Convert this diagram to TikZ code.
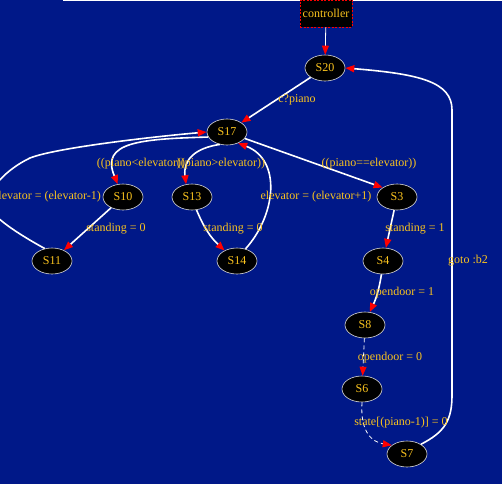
\documentclass[tikz,border=0pt]{standalone}
\usepackage{fontspec}
\setmainfont{Liberation Serif}
\usetikzlibrary{arrows.meta,shapes.geometric}
\definecolor{bgblue}{RGB}{0,24,136}
\definecolor{gold}{RGB}{250,195,30}
\begin{document}
\begin{tikzpicture}[
      x=1pt, y=-1pt,
      font=\fontsize{12}{14}\selectfont,
      >={Triangle[length=9pt,width=7pt,color=red]},
      state/.style={ellipse, draw=white!85!black, line width=0.6pt, fill=black,
        text=gold, inner sep=0pt, minimum width=40pt, minimum height=26pt},
      proc/.style={rectangle, draw=red, dash pattern=on 2pt off 1.5pt, line width=0.7pt,
        fill=black, text=gold, inner sep=0pt, minimum width=52pt, minimum height=27pt},
      lbl/.style={text=gold, inner sep=1pt},
      edge/.style={draw=white, line width=1.6pt, ->},
      thinedge/.style={draw=white, line width=0.8pt, ->},
      dashedge/.style={thinedge, dash pattern=on 4pt off 3pt}
    ]
    \fill[bgblue] (0,0) rectangle (502,484);
    \useasboundingbox (0,0) rectangle (502,484);
    \clip (0,0) rectangle (502,484);
    \fill[white] (63,0) rectangle (502,1.5);

    % states
    \node (ctrl) [proc] at (326,13.5) {controller};
    \node (S20) [state] at (325,68) {S20};
    \node (S17) [state] at (227,132) {S17};
    \node (S10) [state] at (123,197) {S10};
    \node (S13) [state] at (192,197) {S13};
    \node (S3) [state] at (397,197) {S3};
    \node (S11) [state] at (52,261) {S11};
    \node (S14) [state] at (237,261) {S14};
    \node (S4) [state] at (383,261) {S4};
    \node (S8) [state] at (365,325) {S8};
    \node (S6) [state] at (362,389) {S6};
    \node (S7) [state] at (407,454) {S7};

    % transitions
    \draw[thinedge] (ctrl) -- (S20);
    \draw[edge] (S20) -- (S17);
    \draw[edge] (S17.195) .. controls (140,139) and (100,142) .. (S10.112);
    \draw[edge] (S17.-120) .. controls (195,148) and (183,160) .. (S13.115);
    \draw[edge] (S17.-20) -- (S3.north west);
    \draw[edge] (S10) -- (S11);
    \draw[edge] (S11.120) .. controls (20,235) and (-12,215) .. (-12,203)
      .. controls (-12,190) and (5,170) .. (30,158)
      .. controls (55,148) and (150,137) .. (S17.west);
    \draw[edge] (S13) to[bend right=12] (S14.140);
    \draw[edge] (S14.55) .. controls (276,215) and (282,160) .. (S17.-45);
    \draw[edge] (S3) -- (S4);
    \draw[edge] (S4) to[bend left=8] (S8.70);
    \draw[dashedge] (S8) -- (S6);
    \draw[dashedge] (S6.south) .. controls (360,432) and (372,442) .. (S7.150);
    \draw[edge] (S7.35) .. controls (445,432) and (452,420) .. (452,395)
      -- (452,110) .. controls (452,82) and (420,74) .. (S20.east);

    % labels
    \node (l1) [lbl] at (297,100) {c?piano};
    \node (l2) [lbl] at (141,164) {((piano<elevator))};
    \node (l3) [lbl] at (221,164) {((piano>elevator))};
    \node (l4) [lbl] at (369,164) {((piano==elevator))};
    \node (l5) [lbl] at (47,197) {elevator = (elevator-1)};
    \node (l6) [lbl] at (316,197) {elevator = (elevator+1)};
    \node (l7) [lbl] at (116,229) {standing = 0};
    \node (l8) [lbl] at (233,229) {standing = 0};
    \node (l9) [lbl] at (415,229) {standing = 1};
    \node (l10) [lbl] at (468,261) {goto :b2};
    \node (l11) [lbl] at (402,293) {opendoor = 1};
    \node (l12) [lbl] at (390,358) {opendoor = 0};
    \node (l13) [lbl] at (401,423) {state[(piano-1)] = 0};
  \end{tikzpicture}
\end{document}
